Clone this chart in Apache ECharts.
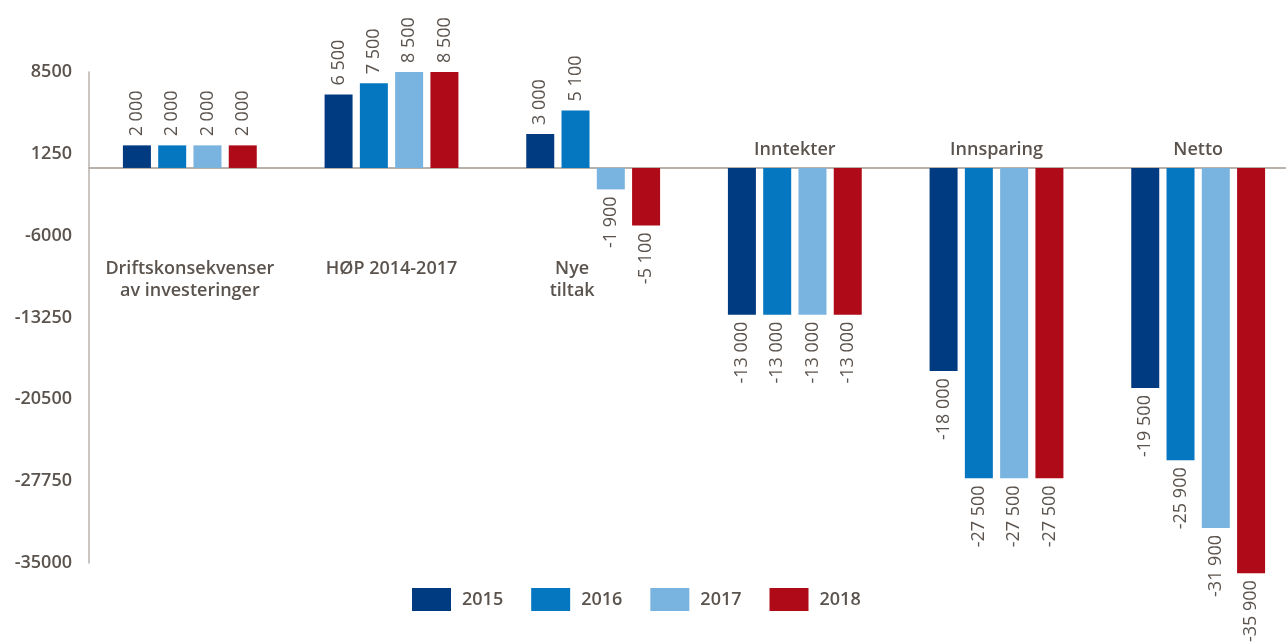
<!DOCTYPE html>
<html>
<head>
<meta charset="utf-8">
<script src="https://cdn.jsdelivr.net/npm/echarts@6/dist/echarts.min.js"></script>
<style>
  html, body { margin: 0; padding: 0; background: #fff; }
  #chart { width: 1286px; height: 644px; }
</style>
</head>
<body>
<div id="chart"></div>
<script>
var categories = ['Driftskonsekvenser\nav investeringer', 'HØP 2014-2017', 'Nye\ntiltak', 'Inntekter', 'Innsparing', 'Netto'];
var years = ['2015', '2016', '2017', '2018'];
var v2015 = [2000, 6500, 3000, -13000, -18000, -19500];
var v2016 = [2000, 7500, 5100, -13000, -27500, -25900];
var v2017 = [2000, 8500, -1900, -13000, -27500, -31900];
var v2018 = [2000, 8500, -5100, -13000, -27500, -35900];
var yMin = -35000, yMax = 8500, yStep = 7250;

var colors = ['#003a80', '#0577c1', '#79b3df', '#ae0a17'];
var textColor = '#5b534d';
var lineColor = '#b9b2ac';

var gridTop = 72, gridBottom = 81;
var plotH = 644 - gridTop - gridBottom;
// where the zero line sits, measured from the grid top
var zeroDrop = plotH * yMax / (yMax - yMin);

var myChart = echarts.init(document.getElementById('chart'));

function fmt(v) {
	return String(v).replace(/\B(?=(\d{3})+(?!\d))/g, ' ');
}

function items(vals) {
	return vals.map(function (v) {
		return {
			value: v,
			label: v >= 0
				? { position: 'top', align: 'left', distance: 9 }
				: { position: 'bottom', align: 'right', distance: 7 }
		};
	});
}

function makeSeries(name, vals, i) {
	return {
		name: name,
		type: 'bar',
		barWidth: 28,
		barGap: '26%',
		clip: false,
		itemStyle: { color: colors[i] },
		label: {
			show: true,
			rotate: 90,
			verticalAlign: 'middle',
			color: textColor,
			fontFamily: 'Open Sans',
			fontSize: 18,
			formatter: function (p) { return fmt(p.value); }
		},
		data: items(vals)
	};
}

var catLabel = { interval: 0, fontFamily: 'Open Sans', fontSize: 18, fontWeight: 600, color: textColor };

option = {
	backgroundColor: '#fff',
	animation: false,
	textStyle: { fontFamily: 'Open Sans' },
	grid: { left: 89, top: gridTop, bottom: gridBottom, right: -13, containLabel: false, outerBoundsMode: 'none' },
	legend: {
		left: 412,
		top: 588,
		padding: 0,
		icon: 'rect',
		itemWidth: 39,
		itemHeight: 23,
		itemGap: 28,
		textStyle: { fontFamily: 'Open Sans', fontSize: 18, fontWeight: 600, color: textColor, padding: [0, 0, 0, 6] },
		data: years
	},
	xAxis: [{
		// zero line
		type: 'category',
		data: categories,
		axisLine: { onZero: true, lineStyle: { color: lineColor, width: 2 } },
		axisTick: { show: false },
		axisLabel: { show: false }
	}, {
		// labels above the zero line
		type: 'category',
		position: 'top',
		offset: -zeroDrop,
		data: categories,
		axisLine: { show: false, onZero: false },
		axisTick: { show: false },
		axisLabel: Object.assign({}, catLabel, {
			margin: 9,
			formatter: function (value, index) { return index > 2 ? value : ''; }
		})
	}, {
		// labels below the zero line
		type: 'category',
		position: 'bottom',
		offset: -(plotH - zeroDrop),
		data: categories,
		axisLine: { show: false, onZero: false },
		axisTick: { show: false },
		axisLabel: Object.assign({}, catLabel, {
			margin: 90,
			lineHeight: 22,
			rich: {
				s: { fontFamily: 'Open Sans', fontSize: 18, fontWeight: 600, color: textColor, lineHeight: 22, padding: [0, 42, 0, 0] }
			},
			formatter: function (value, index) {
				if (index > 2) return '';
				if (index === 2) {
					return value.split('\n').map(function (l) { return '{s|' + l + '}'; }).join('\n');
				}
				return value;
			}
		})
	}],
	yAxis: {
		type: 'value',
		min: yMin,
		max: yMax,
		interval: yStep,
		splitLine: { show: false },
		axisTick: { show: false },
		axisLine: { show: true, lineStyle: { color: lineColor, width: 1.5 } },
		axisLabel: {
			margin: 17,
			fontFamily: 'Open Sans', fontSize: 18, fontWeight: 600, color: textColor,
			formatter: function (v) { return String(v); }
		}
	},
	series: [
		makeSeries(years[0], v2015, 0),
		makeSeries(years[1], v2016, 1),
		makeSeries(years[2], v2017, 2),
		makeSeries(years[3], v2018, 3)
	]
};
myChart.setOption(option);
</script>
</body>
</html>
